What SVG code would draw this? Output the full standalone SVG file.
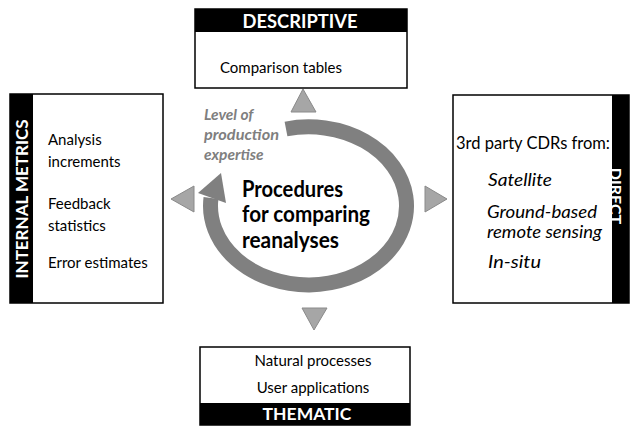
<svg xmlns="http://www.w3.org/2000/svg" width="632" height="426" viewBox="0 0 632 426">
<style>
.box{fill:#fff;stroke:#000;stroke-width:1.5}
.band{fill:#000}
.hdr{font-family:Lato,"Open Sans",sans-serif;font-weight:bold;font-size:19px;fill:#fff}
.t{font-family:Lato,"Open Sans",sans-serif;font-size:15px;fill:#000}
.t2{font-family:Lato,"Open Sans",sans-serif;font-size:16.5px;fill:#000}
.it{font-family:Lato,"Open Sans",sans-serif;font-size:16.5px;font-style:italic;fill:#000}
.lvl{font-family:Lato,"Open Sans",sans-serif;font-size:15.5px;font-style:italic;font-weight:bold;fill:#7f7f7f}
.main{font-family:Lato,"Open Sans",sans-serif;font-size:22px;font-weight:bold;fill:#000}
.tri{fill:#a6a6a6;stroke:#8a8a8a;stroke-width:1}
</style>
<rect width="632" height="426" fill="#fff"/>
<g id="descriptive">
<rect class="box" x="195" y="9" width="212" height="79"/>
<rect class="band" x="195" y="9" width="212" height="23"/>
<text class="hdr" x="300" y="28" text-anchor="middle" textLength="115" lengthAdjust="spacingAndGlyphs">DESCRIPTIVE</text>
<text class="t" x="220" y="73">Comparison tables</text>
</g>
<g id="internal-metrics">
<rect class="box" x="10" y="94" width="153" height="209"/>
<rect class="band" x="10" y="94" width="23" height="209"/>
<text class="hdr" style="font-size:17px" transform="translate(28 199) rotate(-90)" text-anchor="middle">INTERNAL METRICS</text>
<text class="t" x="48" y="145">Analysis</text>
<text class="t" x="48" y="167">increments</text>
<text class="t" x="48" y="209">Feedback</text>
<text class="t" x="48" y="231">statistics</text>
<text class="t" x="48" y="268">Error estimates</text>
</g>
<g id="direct">
<rect class="box" x="453" y="95" width="176" height="208"/>
<rect class="band" x="612" y="95" width="17" height="208"/>
<text class="hdr" style="font-size:16px" transform="translate(610 196) rotate(90)" text-anchor="middle">DIRECT</text>
<text class="t2" x="456" y="149" textLength="154" lengthAdjust="spacingAndGlyphs">3rd party CDRs from:</text>
<text class="it" x="488" y="186" textLength="64" lengthAdjust="spacingAndGlyphs">Satellite</text>
<text class="it" x="487" y="218" textLength="110" lengthAdjust="spacingAndGlyphs">Ground-based</text>
<text class="it" x="487" y="238" textLength="115" lengthAdjust="spacingAndGlyphs">remote sensing</text>
<text class="it" x="488" y="268" textLength="53" lengthAdjust="spacingAndGlyphs">In-situ</text>
</g>
<g id="thematic">
<rect class="box" x="200" y="347" width="210" height="78"/>
<rect class="band" x="200" y="403" width="210" height="22"/>
<text class="hdr" style="font-size:17.5px" x="307" y="420" text-anchor="middle">THEMATIC</text>
<text class="t" x="313" y="366" text-anchor="middle">Natural processes</text>
<text class="t" x="313" y="393" text-anchor="middle">User applications</text>
</g>
<g id="center">
<path d="M 286 129 A 98 79 0 1 1 211 198" fill="none" stroke="#808080" stroke-width="15"/>
<polygon points="221,173 198,193 226,203" fill="#808080"/>
<text class="lvl" x="204" y="120">Level of</text>
<text class="lvl" x="204" y="140" textLength="75" lengthAdjust="spacingAndGlyphs">production</text>
<text class="lvl" x="204" y="160">expertise</text>
<text class="main" x="242" y="197" textLength="101" lengthAdjust="spacingAndGlyphs">Procedures</text>
<text class="main" x="242" y="222" textLength="128" lengthAdjust="spacingAndGlyphs">for comparing</text>
<text class="main" x="242" y="248" textLength="97" lengthAdjust="spacingAndGlyphs">reanalyses</text>
</g>
<g id="connectors">
<polygon class="tri" points="303,89 291,112 316,112"/>
<polygon class="tri" points="171,199 194,186 194,212"/>
<polygon class="tri" points="447,199 425,186 425,212"/>
<polygon class="tri" points="314,330 302,308 327,308"/>
</g>
</svg>
